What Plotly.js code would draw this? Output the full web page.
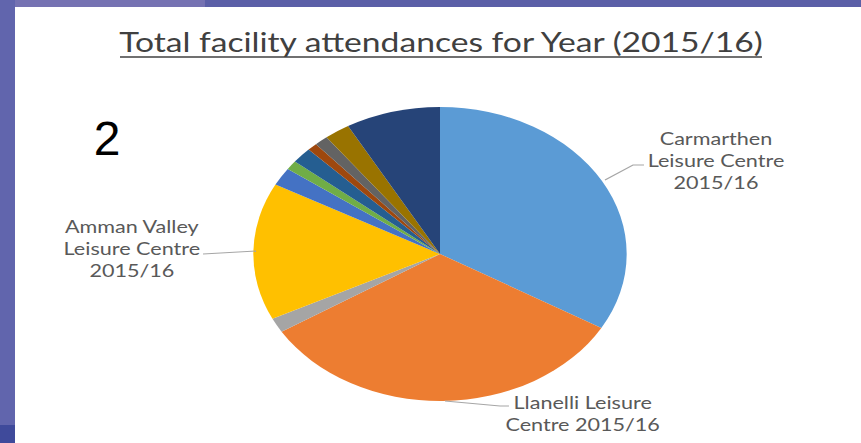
<!DOCTYPE html>
<html>
<head>
<meta charset="utf-8">
<script src="https://cdn.plot.ly/plotly-3.0.1.min.js"></script>
<style>
html,body{margin:0;padding:0;background:#ffffff;overflow:hidden;width:861px;height:443px;}
#chart{width:678px;height:443px;transform:scaleX(1.26991);transform-origin:0 0;}
</style>
</head>
<body>
<div id="chart"></div>
<script>
// ---- data (shares of total attendances, %) ----
var categories = [
  "Carmarthen Leisure Centre 2015/16",
  "Llanelli Leisure Centre 2015/16",
  "Other facility A 2015/16",
  "Amman Valley Leisure Centre 2015/16",
  "Other facility B 2015/16",
  "Other facility C 2015/16",
  "Other facility D 2015/16",
  "Other facility E 2015/16",
  "Other facility F 2015/16",
  "Other facility G 2015/16",
  "Other facility H 2015/16"
];
var shares = [33.4, 32.75, 1.6, 15.1, 2.0, 1.0, 1.75, 0.86, 1.17, 2.2, 8.2];
var sliceColors = ["#5B9BD5","#ED7D31","#A5A5A5","#FFC000","#4472C4","#70AD47",
                   "#255E91","#9E480E","#636363","#997300","#264478"];
var titleText = "Total facility attendances for Year (2015/16)";
var slideNumber = "2";
var calloutTexts = {
  carmarthen: "Carmarthen<br>Leisure Centre<br>2015/16",
  amman: "Amman Valley<br>Leisure Centre<br>2015/16",
  llanelli: "Llanelli Leisure<br>Centre 2015/16"
};

// ---- layout helpers (screen pixel -> paper) ----
var SW = 861, H = 443;          // screen size
var PW = 678;                   // plot width before the slide's horizontal stretch
var STRETCH = SW / PW;
function px(x){ return x / SW; }
function py(y){ return 1 - y / H; }

var CX = 440, CY = 254, R = 147;

var trace = {
  type: "pie",
  labels: categories,
  values: shares,
  sort: false,
  direction: "clockwise",
  rotation: 0,
  textinfo: "none",
  hoverinfo: "label+percent",
  marker: {colors: sliceColors, line: {width: 0}},
  showlegend: false,
  domain: {x: [px(CX) - 0.235, px(CX) + 0.235], y: [py(CY + R), py(CY - R)]}
};

var labelFont = {family: "Lato, 'Open Sans', sans-serif", size: 17, color: "#595959"};
var leader = {color: "#a6a6a6", width: 1};

var layout = {
  width: PW, height: H,
  margin: {l: 0, r: 0, t: 0, b: 0},
  paper_bgcolor: "rgba(0,0,0,0)",
  plot_bgcolor: "rgba(0,0,0,0)",
  title: {
    text: titleText,
    font: {family: "Lato, 'Open Sans', sans-serif", size: 26.5, color: "#404040"},
    x: px(441), xanchor: "center",
    y: py(43), yanchor: "middle",
    xref: "paper", yref: "paper"
  },
  shapes: [
    // slide frame
    {type: "rect", xref: "paper", yref: "paper", x0: 0, x1: 1, y0: py(7), y1: 1,
     fillcolor: "#5B5FA7", line: {width: 0}, layer: "below"},
    {type: "rect", xref: "paper", yref: "paper", x0: 0, x1: px(205), y0: py(7), y1: 1,
     fillcolor: "#7572B2", line: {width: 0}, layer: "below"},
    {type: "rect", xref: "paper", yref: "paper", x0: 0, x1: px(15), y0: 0, y1: 1,
     fillcolor: "#6165AD", line: {width: 0}, layer: "below"},
    {type: "rect", xref: "paper", yref: "paper", x0: 0, x1: px(15), y0: 0, y1: py(425),
     fillcolor: "#3F4A9B", line: {width: 0}, layer: "below"},
    // title underline
    {type: "line", xref: "paper", yref: "paper", x0: px(120), x1: px(762), y0: py(57), y1: py(57),
     line: {color: "#404040", width: 1.3}},
    // leader lines
    {type: "path", xref: "paper", yref: "paper",
     path: "M" + px(605) + "," + py(180) + " L" + px(633) + "," + py(165) + " L" + px(644) + "," + py(165),
     line: leader},
    {type: "path", xref: "paper", yref: "paper",
     path: "M" + px(203) + "," + py(254) + " L" + px(256) + "," + py(251),
     line: leader},
    {type: "path", xref: "paper", yref: "paper",
     path: "M" + px(445) + "," + py(401) + " L" + px(500) + "," + py(406) + " L" + px(509) + "," + py(406),
     line: leader}
  ],
  annotations: [
    {text: slideNumber, xref: "paper", yref: "paper", x: px(107), y: py(138),
     xanchor: "center", yanchor: "middle", showarrow: false,
     font: {family: "'Liberation Sans', Arial, sans-serif", size: 48, color: "#000000"}},
    {text: calloutTexts.carmarthen, xref: "paper", yref: "paper", x: px(716), y: py(161),
     xanchor: "center", yanchor: "middle", align: "center", showarrow: false, font: labelFont},
    {text: calloutTexts.amman, xref: "paper", yref: "paper", x: px(132), y: py(248),
     xanchor: "center", yanchor: "middle", align: "center", showarrow: false, font: labelFont},
    {text: calloutTexts.llanelli, xref: "paper", yref: "paper", x: px(583), y: py(413),
     xanchor: "center", yanchor: "middle", align: "center", showarrow: false, font: labelFont}
  ]
};

Plotly.newPlot("chart", [trace], layout, {displayModeBar: false, staticPlot: true}).then(function(gd){
  // the slide number was not stretched with the chart: undo the stretch for it only
  var texts = gd.querySelectorAll(".annotation-text");
  texts.forEach(function(t){
    if (t.textContent === slideNumber) {
      var b = t.getBBox();
      var c = b.x + b.width / 2;
      t.setAttribute("transform", "translate(" + c + " 0) scale(" + (1 / STRETCH) + " 1) translate(" + (-c) + " 0)");
    }
  });
});
</script>
</body>
</html>
